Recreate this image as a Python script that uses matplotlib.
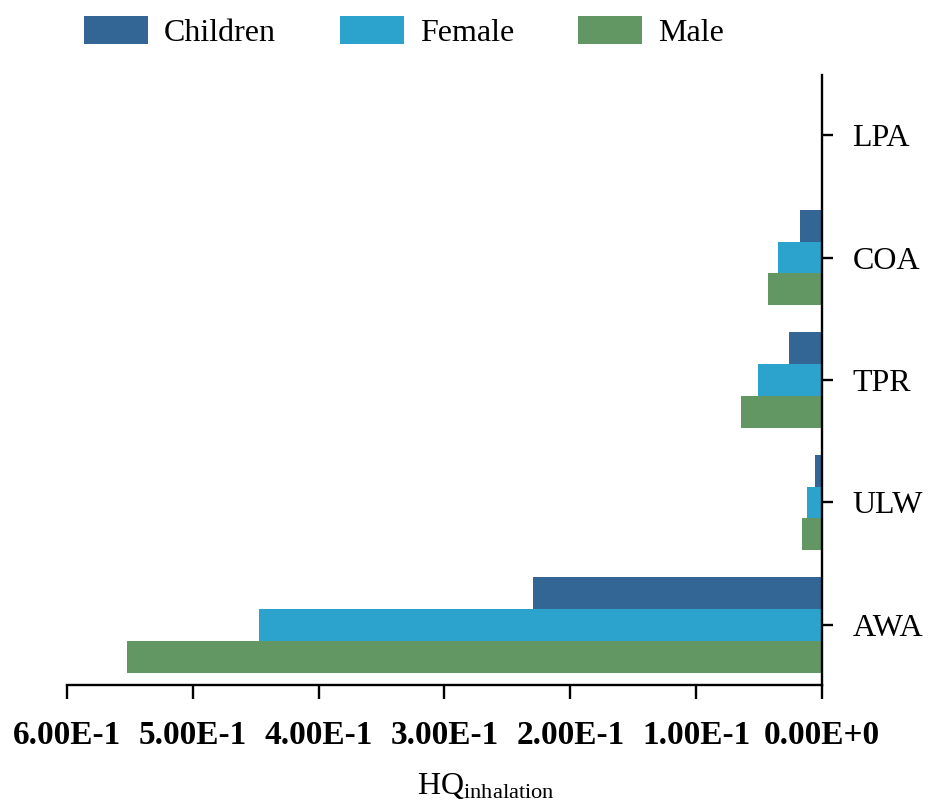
import matplotlib
matplotlib.use("Agg")
import matplotlib.pyplot as plt
import numpy as np

categories = ["AWA", "ULW", "TPR", "COA", "LPA"]
children = [0.2297, 0.0059, 0.026, 0.0175, 0.0001]
female = [0.4475, 0.0123, 0.051, 0.035, 0.0002]
male = [0.5525, 0.0155, 0.0644, 0.043, 0.0002]
series_names = ["Children", "Female", "Male"]
colors = ["#336695", "#2ba3cc", "#629663"]
xticks = [0.6, 0.5, 0.4, 0.3, 0.2, 0.1, 0.0]
xtick_labels = ["6.00E-1", "5.00E-1", "4.00E-1", "3.00E-1", "2.00E-1", "1.00E-1", "0.00E+0"]

plt.rcParams['font.family'] = ['Liberation Serif', 'DejaVu Serif']
plt.rcParams['mathtext.fontset'] = 'custom'
plt.rcParams['mathtext.rm'] = 'Liberation Serif'
plt.rcParams['mathtext.it'] = 'Liberation Serif:italic'

W, H = 931, 808
fig = plt.figure(figsize=(W / 100, H / 100), dpi=100)
ax = fig.add_axes([67 / W, 1 - 685 / H, (822 - 67) / W, (685 - 75) / H])

y = np.arange(len(categories))
h = 0.26
for i, (vals, name, c) in enumerate(zip([children, female, male], series_names, colors)):
    ax.barh(y + (1 - i) * h, vals, height=h, color=c, label=name, linewidth=0)

ax.set_xlim(0.6, 0.0)
ax.set_ylim(-0.49, 4.49)
ax.set_yticks(y)
ax.set_yticklabels(categories, fontsize=23)
ax.yaxis.tick_right()
ax.set_xticks(xticks)
ax.set_xticklabels(xtick_labels, fontsize=24, fontweight='bold')

for s in ['left', 'top']:
    ax.spines[s].set_visible(False)
for s in ['right', 'bottom']:
    ax.spines[s].set_linewidth(1.7)
ax.tick_params(axis='x', length=10, width=1.7, pad=15, direction='out')
ax.tick_params(axis='y', length=8, width=1.7, pad=14, direction='out', right=True, left=False)

fig.text(486 / W, 1 - 786 / H, r"HQ$_{\mathrm{inhalation}}$", fontsize=23, ha='center', va='center')

fig.legend(loc='center', bbox_to_anchor=(404 / W, 1 - 32 / H), ncol=3, frameon=False,
           fontsize=23, handlelength=2.0, handleheight=1.0, handletextpad=0.5,
           columnspacing=2.0, borderaxespad=0)

fig.savefig("out.png", dpi=100)
